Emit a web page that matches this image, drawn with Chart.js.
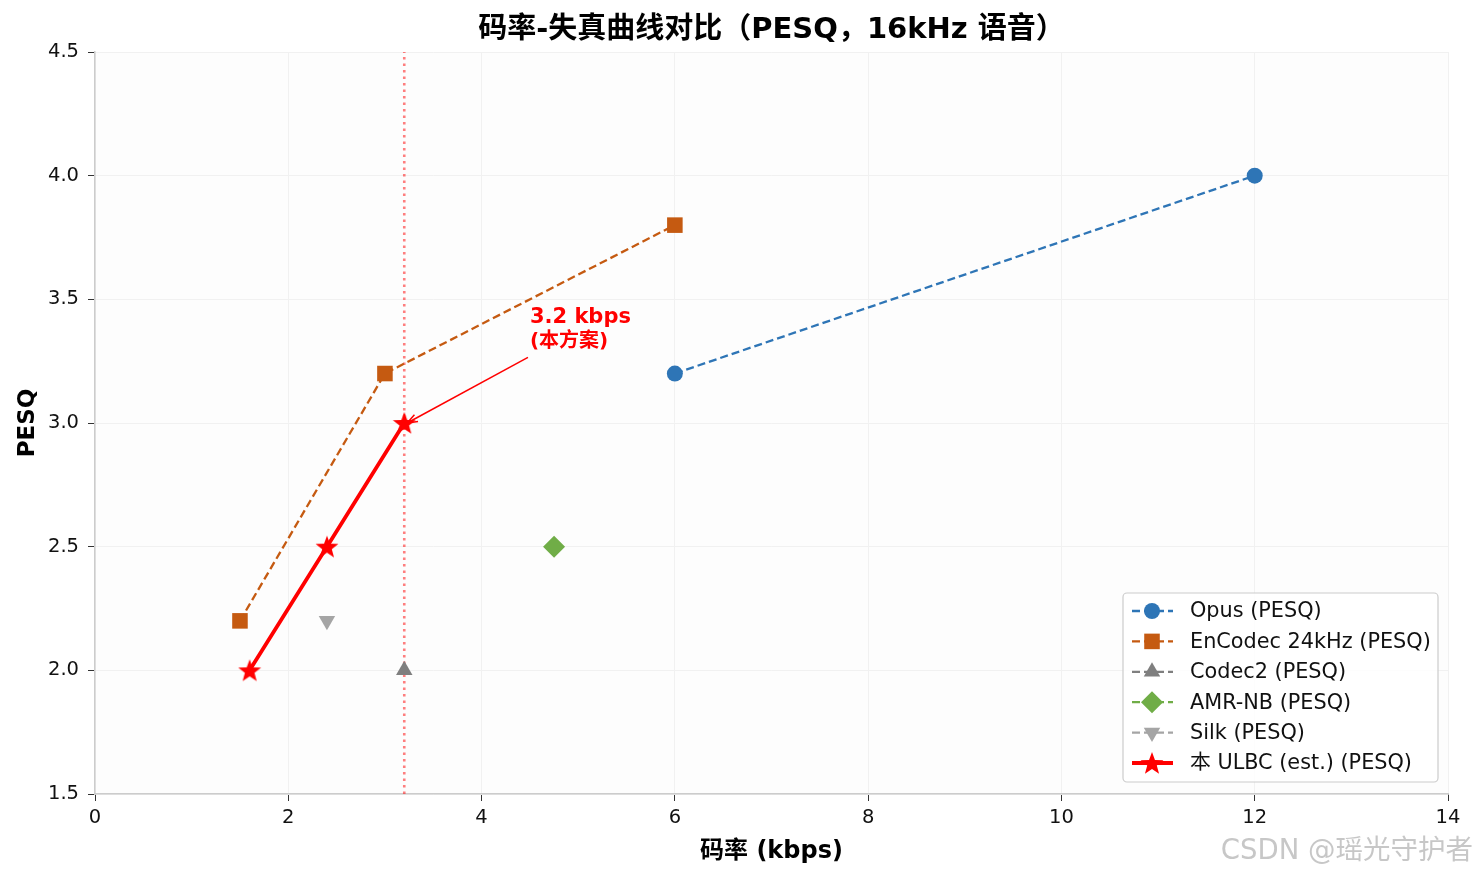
<!DOCTYPE html>
<html>
<head>
<meta charset="utf-8">
<script src="https://cdn.jsdelivr.net/npm/chart.js@4.4.1/dist/chart.umd.min.js"></script>
<style>
  html, body { margin: 0; padding: 0; background: #fff; }
  #wrap { width: 1477px; height: 878px; position: relative; }
</style>
</head>
<body>
<div id="wrap"><canvas id="rdChart"></canvas></div>
<script>
// rate (kbps) / PESQ per codec
var opusRate = [6, 12];
var opusPesq = [3.2, 4.0];
var encodecRate = [1.5, 3, 6];
var encodecPesq = [2.2, 3.2, 3.8];
var codec2Rate = [3.2];
var codec2Pesq = [2.0];
var amrRate = [4.75];
var amrPesq = [2.5];
var silkRate = [2.4];
var silkPesq = [2.2];
var ulbcRate = [1.6, 2.4, 3.2];
var ulbcPesq = [2.0, 2.5, 3.0];
var markRate = 3.2;
var xTicks = [0, 2, 4, 6, 8, 10, 12, 14];
var yTicks = [1.5, 2.0, 2.5, 3.0, 3.5, 4.0, 4.5];

var FONT = "'DejaVu Sans', 'Noto Sans CJK SC', sans-serif";

function pts(xs, ys) {
    var out = [];
    for (var i = 0; i < xs.length; i++) out.push({ x: xs[i], y: ys[i] });
    return out;
}

// filled five point star, used as point style
function makeStar(size, color) {
    var c = document.createElement('canvas');
    c.width = size; c.height = size;
    var g = c.getContext('2d');
    var cx = size / 2, cy = size / 2 + 1, ro = size / 2, ri = ro * 0.42;
    g.beginPath();
    for (var i = 0; i < 10; i++) {
        var r = i % 2 === 0 ? ro : ri;
        var a = -Math.PI / 2 + i * Math.PI / 5;
        g.lineTo(cx + r * Math.cos(a), cy + r * Math.sin(a));
    }
    g.closePath();
    g.fillStyle = color;
    g.fill();
    return c;
}
var star = makeStar(24, '#ff0000');

function series(label, xs, ys, color, style, radius, dash, width, rot) {
    return {
        label: label,
        data: pts(xs, ys),
        showLine: true,
        borderColor: color,
        backgroundColor: color,
        borderWidth: width,
        borderDash: dash,
        pointStyle: style,
        pointRadius: radius,
        pointRotation: rot || 0,
        pointBorderWidth: 0,
        pointBackgroundColor: color,
        pointBorderColor: color
    };
}

var datasets = [
    series('Opus (PESQ)', opusRate, opusPesq, '#2e75b6', 'circle', 8, [8, 4], 2.3),
    series('EnCodec 24kHz (PESQ)', encodecRate, encodecPesq, '#c55a11', 'rect', 11, [8, 4], 2.3),
    series('Codec2 (PESQ)', codec2Rate, codec2Pesq, '#7f7f7f', 'triangle', 9.5, [8, 4], 2.3),
    series('AMR-NB (PESQ)', amrRate, amrPesq, '#70ad47', 'rectRot', 11, [8, 4], 2.3),
    series('Silk (PESQ)', silkRate, silkPesq, '#a5a5a5', 'triangle', 9.5, [8, 4], 2.3, 180),
    series('本 ULBC (est.) (PESQ)', ulbcRate, ulbcPesq, '#ff0000', star, 12, [], 3.8)
];
// reference line at our rate
datasets.push({
    label: '_ref',
    data: [{ x: markRate, y: 1.5 }, { x: markRate, y: 4.5 }],
    showLine: true,
    borderColor: 'rgba(255,0,0,0.5)',
    borderWidth: 2.6,
    borderDash: [2.5, 4],
    pointRadius: 0,
    order: 10
});

function drawMarker(ctx, ds, x, y) {
    Chart.helpers.drawPoint(ctx, {
        pointStyle: ds.pointStyle,
        rotation: ds.pointRotation,
        radius: ds.pointRadius,
        borderWidth: 0
    }, x, y);
}

var decorPlugin = {
    id: 'decor',
    beforeDraw: function(chart) {
        var a = chart.chartArea, ctx = chart.ctx;
        ctx.save();
        ctx.fillStyle = '#fdfdfd';
        ctx.fillRect(a.left, a.top, a.right - a.left, a.bottom - a.top);
        ctx.restore();
    },
    afterDraw: function(chart) {
        var a = chart.chartArea, ctx = chart.ctx;
        var xs = chart.scales.x, ys = chart.scales.y;
        ctx.save();
        // title
        ctx.fillStyle = '#000';
        ctx.textAlign = 'center';
        ctx.textBaseline = 'middle';
        ctx.font = "bold 29px " + FONT;
        ctx.fillText('码率-失真曲线对比（PESQ，16kHz 语音）', (a.left + a.right) / 2, 30);

        // annotation arrow
        var x0 = xs.getPixelForValue(4.48), y0 = ys.getPixelForValue(3.265);
        var x1 = xs.getPixelForValue(3.23), y1 = ys.getPixelForValue(3.0);
        ctx.strokeStyle = '#ff0000';
        ctx.fillStyle = '#ff0000';
        ctx.lineWidth = 1.5;
        ctx.beginPath();
        ctx.moveTo(x0, y0);
        ctx.lineTo(x1, y1);
        ctx.stroke();
        var ang = Math.atan2(y1 - y0, x1 - x0);
        ctx.beginPath();
        ctx.moveTo(x1 - 11 * Math.cos(ang - 0.35), y1 - 11 * Math.sin(ang - 0.35));
        ctx.lineTo(x1, y1);
        ctx.lineTo(x1 - 11 * Math.cos(ang + 0.35), y1 - 11 * Math.sin(ang + 0.35));
        ctx.stroke();
        ctx.textAlign = 'left';
        ctx.font = "bold 21px " + FONT;
        ctx.fillText('3.2 kbps', xs.getPixelForValue(4.5), ys.getPixelForValue(3.425));
        ctx.font = "bold 20px " + FONT;
        ctx.fillText('(本方案)', xs.getPixelForValue(4.5), ys.getPixelForValue(3.33));

        // legend
        var lx = 1123, ly = 593, lw = 315, lh = 189, row = 30.4;
        ctx.fillStyle = 'rgba(255,255,255,0.85)';
        ctx.strokeStyle = '#cccccc';
        ctx.lineWidth = 1.2;
        ctx.beginPath();
        ctx.roundRect(lx, ly, lw, lh, 4);
        ctx.fill();
        ctx.stroke();
        ctx.font = "20.8px " + FONT;
        ctx.textBaseline = 'middle';
        var items = chart.data.datasets.filter(function(d) { return d.label.charAt(0) !== '_'; });
        items.forEach(function(ds, i) {
            var cy = 611 + i * row;
            ctx.strokeStyle = ds.borderColor;
            ctx.fillStyle = ds.borderColor;
            ctx.lineWidth = ds.borderWidth;
            ctx.setLineDash(ds.borderDash);
            ctx.beginPath();
            ctx.moveTo(1132, cy);
            ctx.lineTo(1173, cy);
            ctx.stroke();
            ctx.setLineDash([]);
            drawMarker(ctx, ds, 1152, cy);
            ctx.fillStyle = '#111';
            ctx.fillText(ds.label, 1190, cy + 1);
        });

        // watermark
        ctx.font = "27.5px " + FONT;
        ctx.fillStyle = 'rgba(180,180,180,0.75)';
        ctx.textAlign = 'right';
        ctx.fillText('CSDN @瑶光守护者', 1473, 852);
        ctx.restore();
    }
};

new Chart(document.getElementById('rdChart'), {
    type: 'scatter',
    data: { datasets: datasets },
    options: {
        responsive: true,
        maintainAspectRatio: false,
        animation: false,
        devicePixelRatio: 1,
        layout: { padding: { left: 14, top: 52, right: 29, bottom: 0 } },
        plugins: {
            legend: { display: false },
            tooltip: { enabled: false },
            title: { display: false }
        },
        scales: {
            x: {
                type: 'linear',
                min: 0, max: 14,
                afterBuildTicks: function(s) { s.ticks = xTicks.map(function(v) { return { value: v }; }); },
                afterFit: function(s) { s.height = 84; },
                ticks: { font: { family: FONT, size: 19.5 }, color: '#111', padding: 5 },
                grid: { color: '#f1f1f1', tickColor: '#333', tickLength: 7, lineWidth: 1 },
                border: { color: '#cccccc', width: 1.5 },
                title: { display: true, text: '码率 (kbps)', font: { family: FONT, size: 24, weight: 'bold' }, color: '#000', padding: { top: 4, bottom: 12 } }
            },
            y: {
                type: 'linear',
                min: 1.5, max: 4.5,
                afterBuildTicks: function(s) { s.ticks = yTicks.map(function(v) { return { value: v }; }); },
                afterFit: function(s) { s.width = 81; },
                ticks: { font: { family: FONT, size: 19.5 }, color: '#111', padding: 9,
                    callback: function(v) { return v.toFixed(1); } },
                grid: { color: '#f1f1f1', tickColor: '#333', tickLength: 7, lineWidth: 1 },
                border: { color: '#cccccc', width: 1.5 },
                title: { display: true, text: 'PESQ', font: { family: FONT, size: 23, weight: 'bold' }, color: '#000', padding: { top: 0, bottom: 8 } }
            }
        }
    },
    plugins: [decorPlugin]
});
</script>
</body>
</html>
